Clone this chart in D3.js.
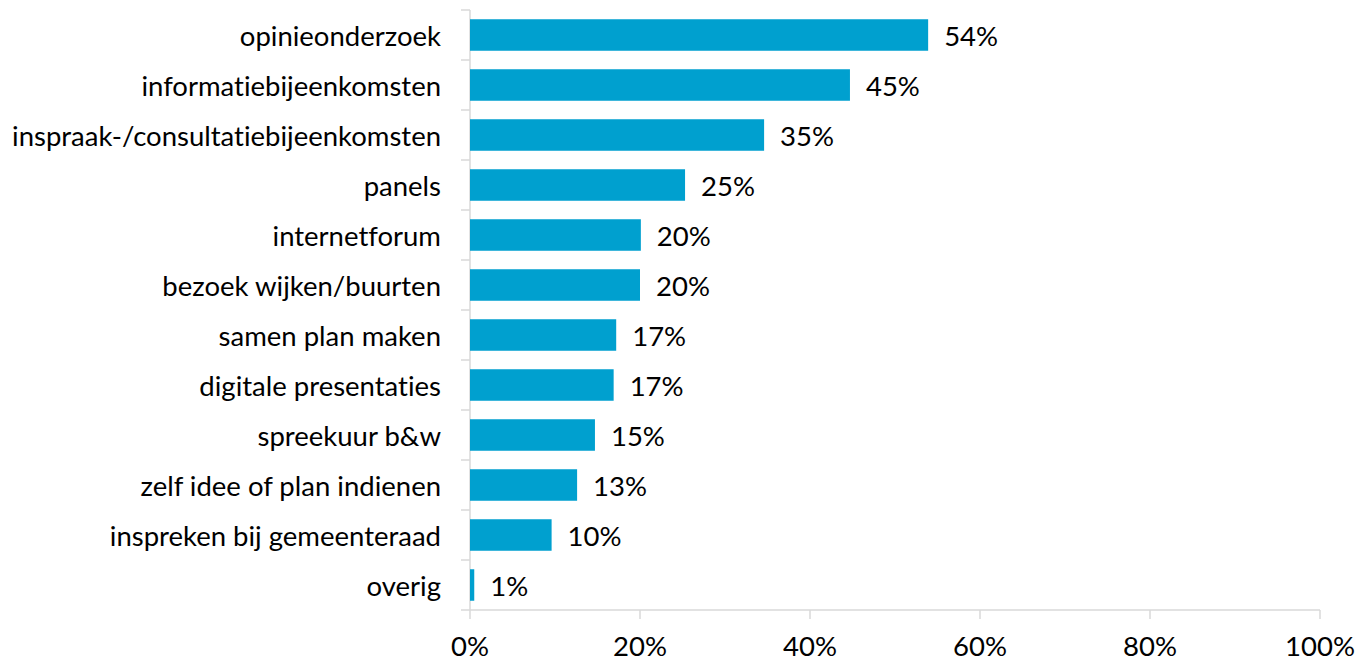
<!DOCTYPE html>
<html>
<head>
<meta charset="utf-8">
<script src="https://cdn.jsdelivr.net/npm/d3@7"></script>
<style>
  body { margin: 0; background: #fff; }
  svg { display: block; font-family: "Lato", "Open Sans", sans-serif; font-variant-ligatures: none; font-feature-settings: "liga" 0, "clig" 0; }
</style>
</head>
<body>
<script>
var categories = ["opinieonderzoek", "informatiebijeenkomsten", "inspraak-/consultatiebijeenkomsten",
  "panels", "internetforum", "bezoek wijken/buurten", "samen plan maken", "digitale presentaties",
  "spreekuur b&w", "zelf idee of plan indienen", "inspreken bij gemeenteraad", "overig"];
var values = [53.9, 44.7, 34.6, 25.3, 20.1, 20.0, 17.2, 16.9, 14.7, 12.6, 9.6, 0.5];
var ticks = [0, 20, 40, 60, 80, 100];

var W = 1361, H = 661;
var plotLeft = 470, plotRight = 1320, plotTop = 10, plotBottom = 610;
var fontSize = 27.5;

var svg = d3.select("body").append("svg").attr("width", W).attr("height", H);

var x = d3.scaleLinear().domain([0, 100]).range([plotLeft, plotRight]);
var y = d3.scaleBand().domain(categories).range([plotTop, plotBottom]).paddingInner(0.37).paddingOuter(0.185);
var yb = d3.scaleBand().domain(categories).range([plotTop, plotBottom]);

var grid = "#d9d9d9";

// y axis line + ticks at band boundaries
svg.append("line").attr("x1", plotLeft).attr("x2", plotLeft).attr("y1", plotTop).attr("y2", plotBottom)
  .style("stroke", grid).style("stroke-width", 1.5);
svg.selectAll("line.ytick").data(categories).enter().append("line")
  .attr("class", "ytick")
  .attr("x1", plotLeft - 9).attr("x2", plotLeft)
  .attr("y1", function(d) { return yb(d); }).attr("y2", function(d) { return yb(d); })
  .style("stroke", grid).style("stroke-width", 1.5);

// x axis
svg.append("line").attr("x1", plotLeft - 9).attr("x2", plotRight).attr("y1", plotBottom).attr("y2", plotBottom)
  .style("stroke", grid).style("stroke-width", 1.5);
svg.selectAll("line.xtick").data(ticks).enter().append("line")
  .attr("class", "xtick")
  .attr("x1", function(d) { return x(d); }).attr("x2", function(d) { return x(d); })
  .attr("y1", plotBottom).attr("y2", plotBottom + 9)
  .style("stroke", grid).style("stroke-width", 1.5);
svg.selectAll("text.xlab").data(ticks).enter().append("text")
  .attr("class", "xlab")
  .attr("x", function(d) { return x(d); }).attr("y", 656)
  .attr("text-anchor", "middle")
  .style("font-size", fontSize + "px").style("fill", "#000")
  .text(function(d) { return d + "%"; });

// bars
svg.selectAll("rect.bar").data(values).enter().append("rect")
  .attr("class", "bar")
  .attr("x", x(0))
  .attr("y", function(d, i) { return y(categories[i]); })
  .attr("width", function(d) { return x(d) - x(0); })
  .attr("height", y.bandwidth())
  .style("fill", "#00a0cf");

// value labels
svg.selectAll("text.val").data(values).enter().append("text")
  .attr("class", "val")
  .attr("x", function(d) { return x(d) + 16; })
  .attr("y", function(d, i) { return yb(categories[i]) + yb.bandwidth() / 2 + 1; })
  .attr("dy", "0.35em")
  .style("font-size", fontSize + "px").style("fill", "#000")
  .text(function(d) { return Math.round(d) + "%"; });

// category labels
svg.selectAll("text.cat").data(categories).enter().append("text")
  .attr("class", "cat")
  .attr("x", plotLeft - 29)
  .attr("y", function(d) { return yb(d) + yb.bandwidth() / 2 + 1; })
  .attr("dy", "0.35em")
  .attr("text-anchor", "end")
  .style("font-size", fontSize + "px").style("fill", "#000")
  .text(function(d) { return d; });
</script>
</body>
</html>
